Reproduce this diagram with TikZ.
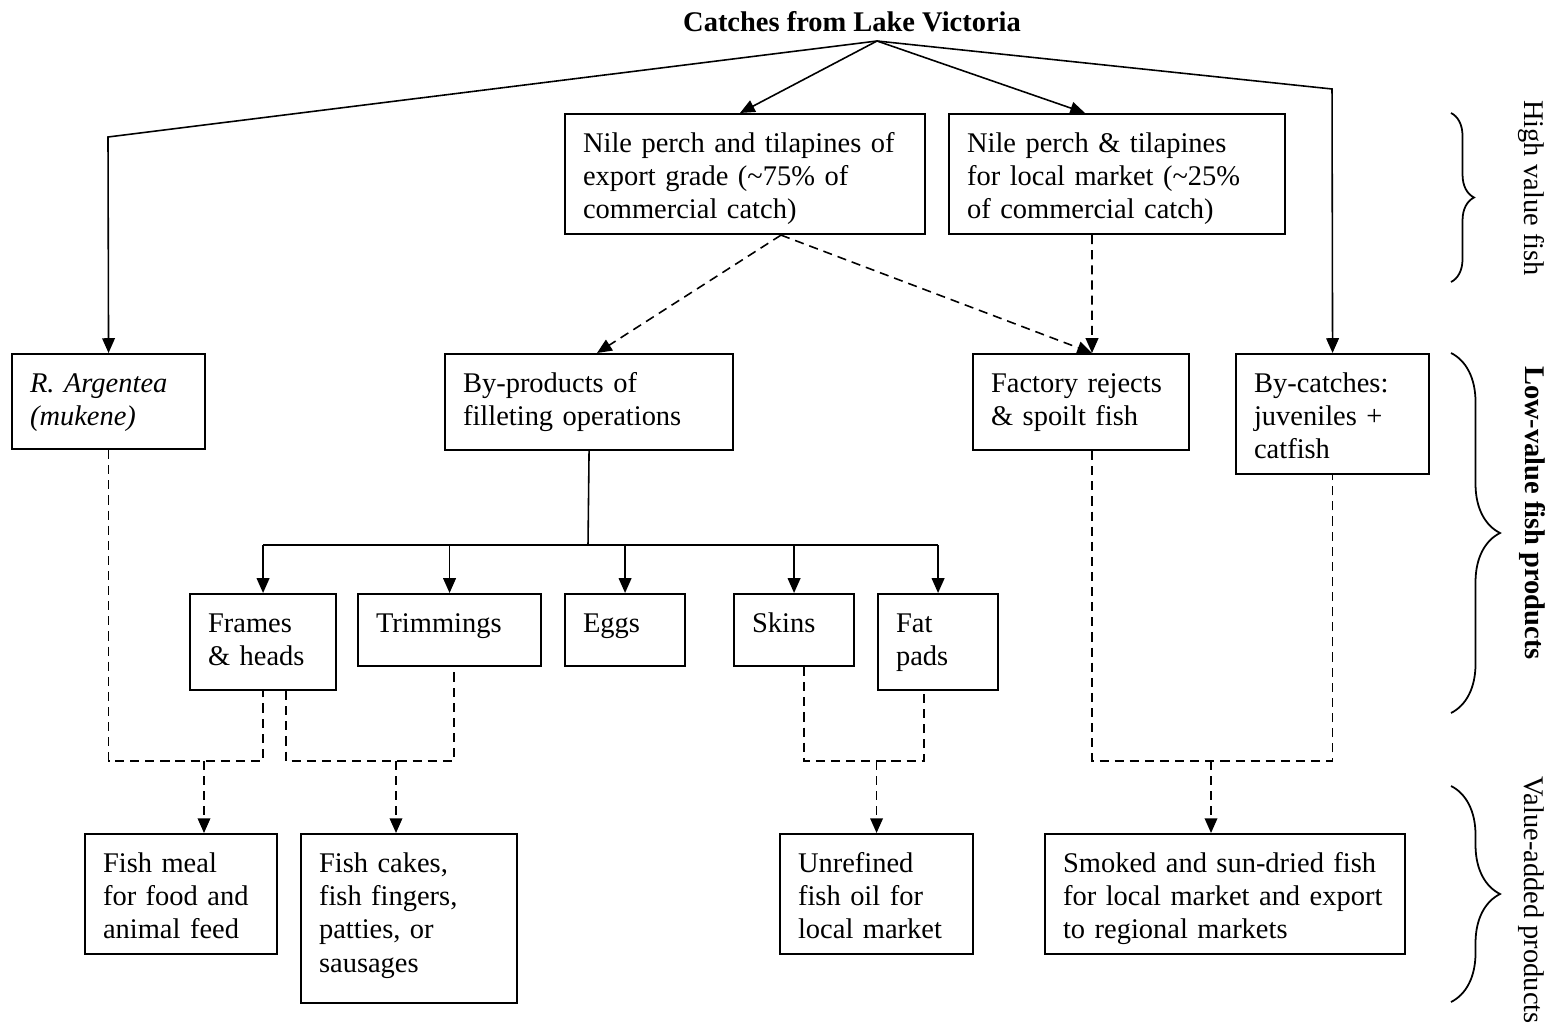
\documentclass[tikz,border=0pt]{standalone}
\usepackage{fontspec}
\setmainfont{Liberation Serif}
\usetikzlibrary{decorations.pathreplacing,arrows.meta}

\newcommand{\diagfont}{\fontsize{8.1pt}{9.5pt}\selectfont}

\tikzset{
  box/.style={draw=black,line width=0.6pt,anchor=north west,align=left,
    inner xsep=0.18cm,inner ysep=0pt,text height=0.38cm},
  solidline/.style={draw=black,line width=0.45pt},
  dashline/.style={draw=black,line width=0.45pt,dash pattern=on 2.6pt off 1.7pt},
  tip/.style={-{Triangle[length=4.2pt,width=3.6pt]}},
  sidebrace/.style={draw=black,line width=0.5pt,decorate,decoration={brace,amplitude=#1}}
}

\begin{document}
\begin{tikzpicture}[font=\diagfont]

\useasboundingbox (0,0) rectangle (15.6,-10.31);

\node[font=\diagfont\bfseries] (title) at (8.52,-0.22) {Catches from Lake Victoria};
\coordinate (apex) at (8.77,-0.41);
\coordinate (leftturn) at (1.08,-1.37);
\coordinate (rightturn) at (13.32,-0.89);

%high value fish
\node[box,text width=3.24cm,text depth=0.82cm] (exp) at (5.64,-1.13)
  {Nile perch and tilapines of\\export grade (\textasciitilde75\% of\\commercial catch)};
\node[box,text width=3.00cm,text depth=0.82cm] (loc) at (9.48,-1.13)
  {Nile perch \& tilapines\\for local market (\textasciitilde25\%\\of commercial catch)};

%low-value fish products
\node[box,text width=1.57cm,text depth=0.57cm] (arg) at (0.11,-3.53)
  {\textit{R. Argentea}\\\textit{(mukene)}};
\node[box,text width=2.52cm,text depth=0.58cm] (byp) at (4.44,-3.53)
  {By-products of\\filleting operations};
\node[box,text width=1.80cm,text depth=0.58cm] (rej) at (9.72,-3.53)
  {Factory rejects\\\& spoilt fish};
\node[box,text width=1.57cm,text depth=0.82cm] (bycat) at (12.35,-3.53)
  {By-catches:\\juveniles +\\catfish};

\node[box,text width=1.10cm,text depth=0.58cm] (frames) at (1.89,-5.93) {Frames\\\& heads};
\node[box,text width=1.47cm,text depth=0.34cm] (trim) at (3.57,-5.93) {Trimmings};
\node[box,text width=0.84cm,text depth=0.34cm] (eggs) at (5.64,-5.93) {Eggs};
\node[box,text width=0.84cm,text depth=0.34cm] (skins) at (7.33,-5.93) {Skins};
\node[box,text width=0.84cm,text depth=0.58cm] (fat) at (8.77,-5.93) {Fat\\pads};

%value-added products
\node[box,text width=1.56cm,text depth=0.82cm] (meal) at (0.84,-8.33)
  {Fish meal\\for food and\\animal feed};
\node[box,text width=1.80cm,text depth=1.31cm] (cakes) at (3.00,-8.33)
  {Fish cakes,\\fish fingers,\\patties, or\\sausages};
\node[box,text width=1.57cm,text depth=0.82cm] (oil) at (7.79,-8.33)
  {Unrefined\\fish oil for\\local market};
\node[box,text width=3.24cm,text depth=0.82cm] (smoke) at (10.44,-8.33)
  {Smoked and sun-dried fish\\for local market and export\\to regional markets};

%catches
\path[solidline,tip] (apex) -- (leftturn) -- (arg.north);
\path[solidline,tip] (apex) -- ([xshift=1.76cm]exp.north west);
\path[solidline,tip] (apex) -- ([xshift=1.37cm]loc.north west);
\path[solidline,tip] (apex) -- (rightturn) -- (bycat.north);

\path[dashline,tip] ([xshift=2.17cm]exp.south west) -- ([xshift=1.53cm]byp.north west);
\path[dashline,tip] ([xshift=2.17cm]exp.south west) -- ([xshift=1.20cm]rej.north west);
\path[dashline,tip] ([xshift=1.44cm]loc.south west) -- ([xshift=1.20cm]rej.north west);

%by-products
\coordinate (fork) at (5.88,-5.45);
\path[solidline] (byp.south) -- (fork);
\path[solidline] (fork -| frames.north) -- (fork -| fat.north);
\foreach \n in {frames,trim,eggs,skins,fat}
  \path[solidline,tip] (fork -| \n.north) -- (\n.north);

%joins
\coordinate (low) at (0,-7.61);
\coordinate (framesout) at ([xshift=0.97cm]frames.south west);
\coordinate (trimout) at ([xshift=0.97cm]trim.south west);
\coordinate (skinsout) at ([xshift=0.71cm]skins.south west);
\coordinate (fatout) at ([xshift=0.47cm]fat.south west);
\coordinate (rejout) at ([xshift=1.20cm]rej.south west);
\coordinate (mealin) at ([xshift=1.20cm]meal.north west);
\coordinate (cakesin) at ([xshift=0.96cm]cakes.north west);
\coordinate (smokein) at ([xshift=1.67cm]smoke.north west);

\path[dashline] (arg.south) -- (arg.south |- low) -- (frames.south |- low) -- (frames.south);
\path[dashline,tip] (mealin |- low) -- (mealin);

\path[dashline] (framesout) -- (framesout |- low) -- (trimout |- low) -- (trimout);
\path[dashline,tip] (cakesin |- low) -- (cakesin);

\path[dashline] (skinsout) -- (skinsout |- low) -- (fatout |- low) -- (fatout);
\path[dashline,tip] (oil.north |- low) -- (oil.north);

\path[dashline] (rejout) -- (rejout |- low) -- (bycat.south |- low) -- (bycat.south);
\path[dashline,tip] (smokein |- low) -- (smokein);

%braces
\path[sidebrace=0.23cm] (14.51,-1.13) -- (14.51,-2.82);
\path[sidebrace=0.49cm] (14.51,-3.53) -- (14.51,-7.13);
\path[sidebrace=0.49cm] (14.51,-7.86) -- (14.51,-10.02);

\node[rotate=-90] (hv) at (15.31,-1.88) {High value fish};
\node[rotate=-90,font=\diagfont\bfseries] (lv) at (15.32,-5.13) {Low-value fish products};
\node[rotate=-90] (va) at (15.31,-9.00) {Value-added products};

\end{tikzpicture}
\end{document}
